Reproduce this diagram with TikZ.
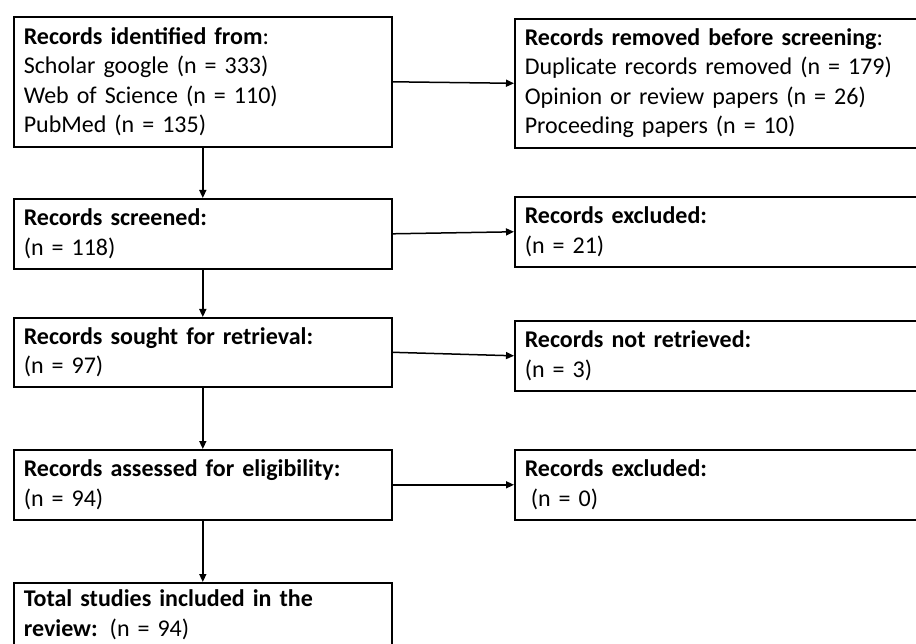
\documentclass[tikz,border=0pt]{standalone}
\usepackage{fontspec}
\setmainfont{Carlito}[WordSpace=0.85]
\usetikzlibrary{arrows.meta}
\begin{document}
\begin{tikzpicture}[x=1pt,y=-1pt,
  box/.style={draw, line width=1.6pt, anchor=north west, align=left,
    inner xsep=10pt, inner ysep=0pt, font=\fontsize{24}{29.5}\selectfont},
  leftbox/.style={box, text width=358pt},
  rightbox/.style={box, text width=440pt},
  arr/.style={line width=1.5pt, -{Triangle[length=8pt,width=7pt]}}]
\useasboundingbox (0,0) rectangle (916,644);
\clip (0,0) rectangle (916,644);

\node[leftbox, minimum height=130pt] (b1) at (13,16)
  {\textbf{Records identified from}:\\Scholar google (n = 333)\\Web of Science (n = 110)\\PubMed (n = 135)};
\node[rightbox, minimum height=129pt] (b2) at (514,18)
  {\textbf{Records removed before screening}:\\Duplicate records removed (n = 179)\\Opinion or review papers (n = 26)\\Proceeding papers (n = 10)};

\node[leftbox, minimum height=70pt] (s) at (13,198)
  {\textbf{Records screened:}\\(n = 118)};
\node[rightbox, minimum height=70pt] (e1) at (514,196)
  {\textbf{Records excluded:}\\(n = 21)};

\node[leftbox, minimum height=69pt] (r) at (13,317)
  {\textbf{Records sought for retrieval:}\\(n = 97)};
\node[rightbox, minimum height=70pt] (nr) at (514,320)
  {\textbf{Records not retrieved:}\\(n = 3)};

\node[leftbox, minimum height=70pt] (a) at (13,449)
  {\textbf{Records assessed for eligibility:}\\(n = 94)};
\node[rightbox, minimum height=70pt] (e2) at (514,449)
  {\textbf{Records excluded:}\\\hspace*{0.25em}(n = 0)};

\node[leftbox, inner ysep=7pt] (t) at (13,582)
  {\textbf{Total studies included in the}\\\textbf{review:} (n = 94)};

\draw[arr] (b1.east) -- (b2.west);
\draw[arr] (s.east) -- (e1.west);
\draw[arr] (r.east) -- (nr.west);
\draw[arr] (a.east) -- (e2.west);
\draw[arr] (b1.south) -- (s.north);
\draw[arr] (s.south) -- (r.north);
\draw[arr] (r.south) -- (a.north);
\draw[arr] (a.south) -- (t.north);
\end{tikzpicture}
\end{document}
